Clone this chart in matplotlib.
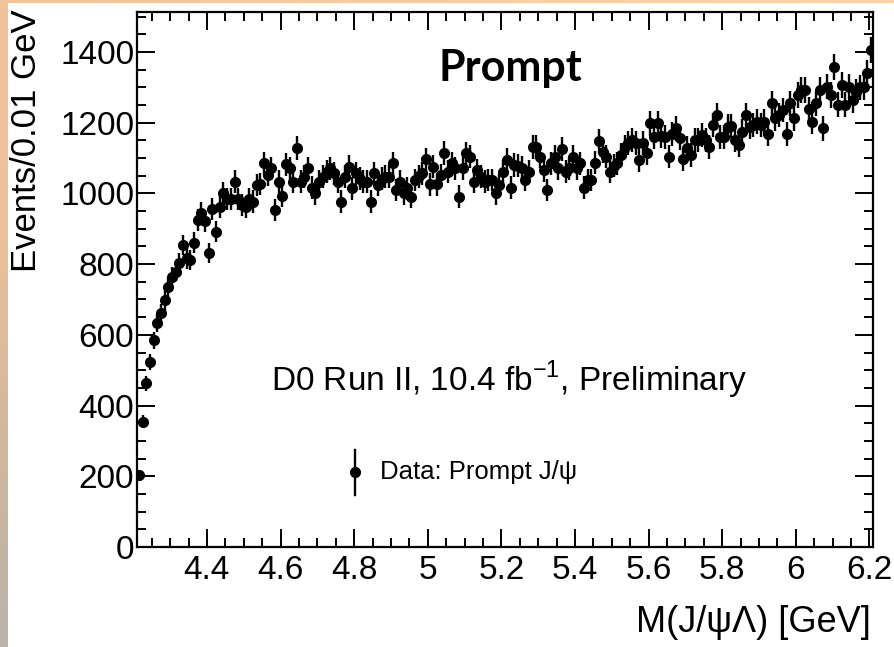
import numpy as np
import matplotlib
matplotlib.use("Agg")
import matplotlib.pyplot as plt
from matplotlib.ticker import MultipleLocator
from matplotlib.colors import LinearSegmentedColormap

# ---- data: events per 0.01 GeV bin, M(J/psi Lambda) from 4.21 to 6.21 GeV ----
bin_low = 4.21
bin_width = 0.01
counts = [
    204, 354, 463, 524, 585, 633, 661, 698, 736, 764,
    779, 802, 854, 816, 812, 861, 925, 945, 922, 832,
    956, 892, 962, 1000, 983, 983, 1033, 983, 967, 962,
    983, 977, 1024, 1027, 1085, 1052, 1071, 953, 1033, 993,
    1082, 1071, 1033, 1129, 1033, 1047, 1071, 1016, 1000, 1033,
    1047, 1061, 1071, 1057, 1033, 977, 1047, 1075, 1014, 1057,
    1042, 1033, 1033, 977, 1057, 1024, 1042, 1047, 1047, 1085,
    1010, 1033, 1000, 1014, 991, 1038, 1049, 1057, 1096, 1026,
    1075, 1026, 1052, 1115, 1061, 1085, 1071, 991, 1071, 1113,
    1104, 1033, 1066, 1047, 1033, 1038, 1038, 1000, 1024, 1061,
    1094, 1016, 1080, 1078, 1073, 1038, 1061, 1132, 1132, 1104,
    1066, 1010, 1085, 1104, 1071, 1126, 1061, 1071, 1104, 1071,
    1085, 1016, 1038, 1038, 1087, 1149, 1118, 1104, 1061, 1078,
    1085, 1108, 1132, 1142, 1151, 1142, 1094, 1142, 1113, 1198,
    1160, 1198, 1162, 1160, 1104, 1169, 1184, 1156, 1096, 1128,
    1108, 1151, 1151, 1165, 1151, 1132, 1193, 1222, 1160, 1160,
    1189, 1191, 1151, 1137, 1175, 1222, 1189, 1193, 1203, 1193,
    1203, 1169, 1255, 1212, 1222, 1236, 1169, 1255, 1212, 1278,
    1292, 1292, 1238, 1203, 1255, 1292, 1184, 1302, 1278, 1358,
    1250, 1307, 1250, 1302, 1264, 1288, 1300, 1300, 1341, 1406,
]
x_range = (4.21, 6.21)
y_range = (0, 1513)
x_major_ticks = [4.4, 4.6, 4.8, 5.0, 5.2, 5.4, 5.6, 5.8, 6.0, 6.2]
x_tick_labels = ["4.4", "4.6", "4.8", "5", "5.2", "5.4", "5.6", "5.8", "6", "6.2"]
y_major_ticks = [0, 200, 400, 600, 800, 1000, 1200, 1400]

counts = np.array(counts, dtype=float)
centers = bin_low + bin_width * (np.arange(len(counts)) + 0.5)
errors = np.sqrt(counts)

W, H = 894, 647
fig = plt.figure(figsize=(W / 100, H / 100), dpi=100)
fig.patch.set_facecolor("white")

# decorative slide border (left and top)
grad_ax = fig.add_axes([0, 0, 8 / W, 1])
grad = np.linspace(0, 1, 256).reshape(-1, 1)
cm_left = LinearSegmentedColormap.from_list("l", ["#f2c49a", "#eec299", "#d2b89c", "#b9b3aa"])
grad_ax.imshow(grad, aspect="auto", cmap=cm_left, extent=[0, 1, 1, 0])
grad_ax.axis("off")
top_ax = fig.add_axes([0, 1 - 3 / H, 1, 3 / H])
cm_top = LinearSegmentedColormap.from_list("t", ["#f2c49a", "#f6cda3", "#f8d2aa"])
top_ax.imshow(grad.T, aspect="auto", cmap=cm_top)
top_ax.axis("off")

L, R, B, T = 137, 873, 547, 12
ax = fig.add_axes([L / W, 1 - B / H, (R - L) / W, (B - T) / H])
ax.errorbar(centers, counts, yerr=errors, fmt="o", color="black", ms=7,
            elinewidth=1.7, capsize=0, zorder=3, clip_on=True)
ax.set_xlim(*x_range)
ax.set_ylim(*y_range)

ax.set_xticks(x_major_ticks)
ax.set_xticklabels(x_tick_labels)
ax.set_yticks(y_major_ticks)
ax.xaxis.set_minor_locator(MultipleLocator(0.05))
ax.yaxis.set_minor_locator(MultipleLocator(50))
ax.tick_params(which="both", direction="in", top=True, right=True, width=1.4, color="black")
ax.tick_params(which="major", length=13)
ax.tick_params(which="minor", length=6.5)
ax.tick_params(axis="x", which="major", labelsize=24, pad=6)
ax.tick_params(axis="y", which="major", labelsize=24, pad=2)
for lab in ax.get_xticklabels() + ax.get_yticklabels():
    lab.set_fontfamily("Liberation Sans")
for s in ax.spines.values():
    s.set_linewidth(1.6)

# axis titles
fig.text(27 / W, 1 - 9 / H, "Events/0.01 GeV", rotation=90, ha="center", va="top",
         fontsize=25, family="Liberation Sans")
fig.text(871 / W, 1 - 622 / H, "M(J/ψΛ) [GeV]", ha="right", va="center",
         fontsize=26, family="Liberation Sans")

# annotations
ax.text((510 - L) / (R - L), 1 - (68 - T) / (B - T), "Prompt", ha="center", va="center",
        fontsize=31, fontweight="bold", family="Lato", transform=ax.transAxes)
ax.text((509 - L) / (R - L), 1 - (380 - T) / (B - T),
        r"D0 Run II, 10.4 fb$^{\mathregular{-1}}$, Preliminary", ha="center", va="center",
        fontsize=24, family="Liberation Sans", transform=ax.transAxes)

# legend entry (drawn in axes coordinates)
lx = (355 - L) / (R - L)
ly = 1 - (472 - T) / (B - T)
ly0 = 1 - (450 - T) / (B - T)
ly1 = 1 - (495 - T) / (B - T)
ax.plot([lx, lx], [ly0, ly1], color="black", lw=1.7, transform=ax.transAxes)
ax.plot([lx], [ly], "o", color="black", ms=7, transform=ax.transAxes)
ax.text((380 - L) / (R - L), ly, "Data: Prompt J/ψ", ha="left", va="center",
        fontsize=18.5, family="Liberation Sans", transform=ax.transAxes)

fig.savefig("out.png", dpi=100)
